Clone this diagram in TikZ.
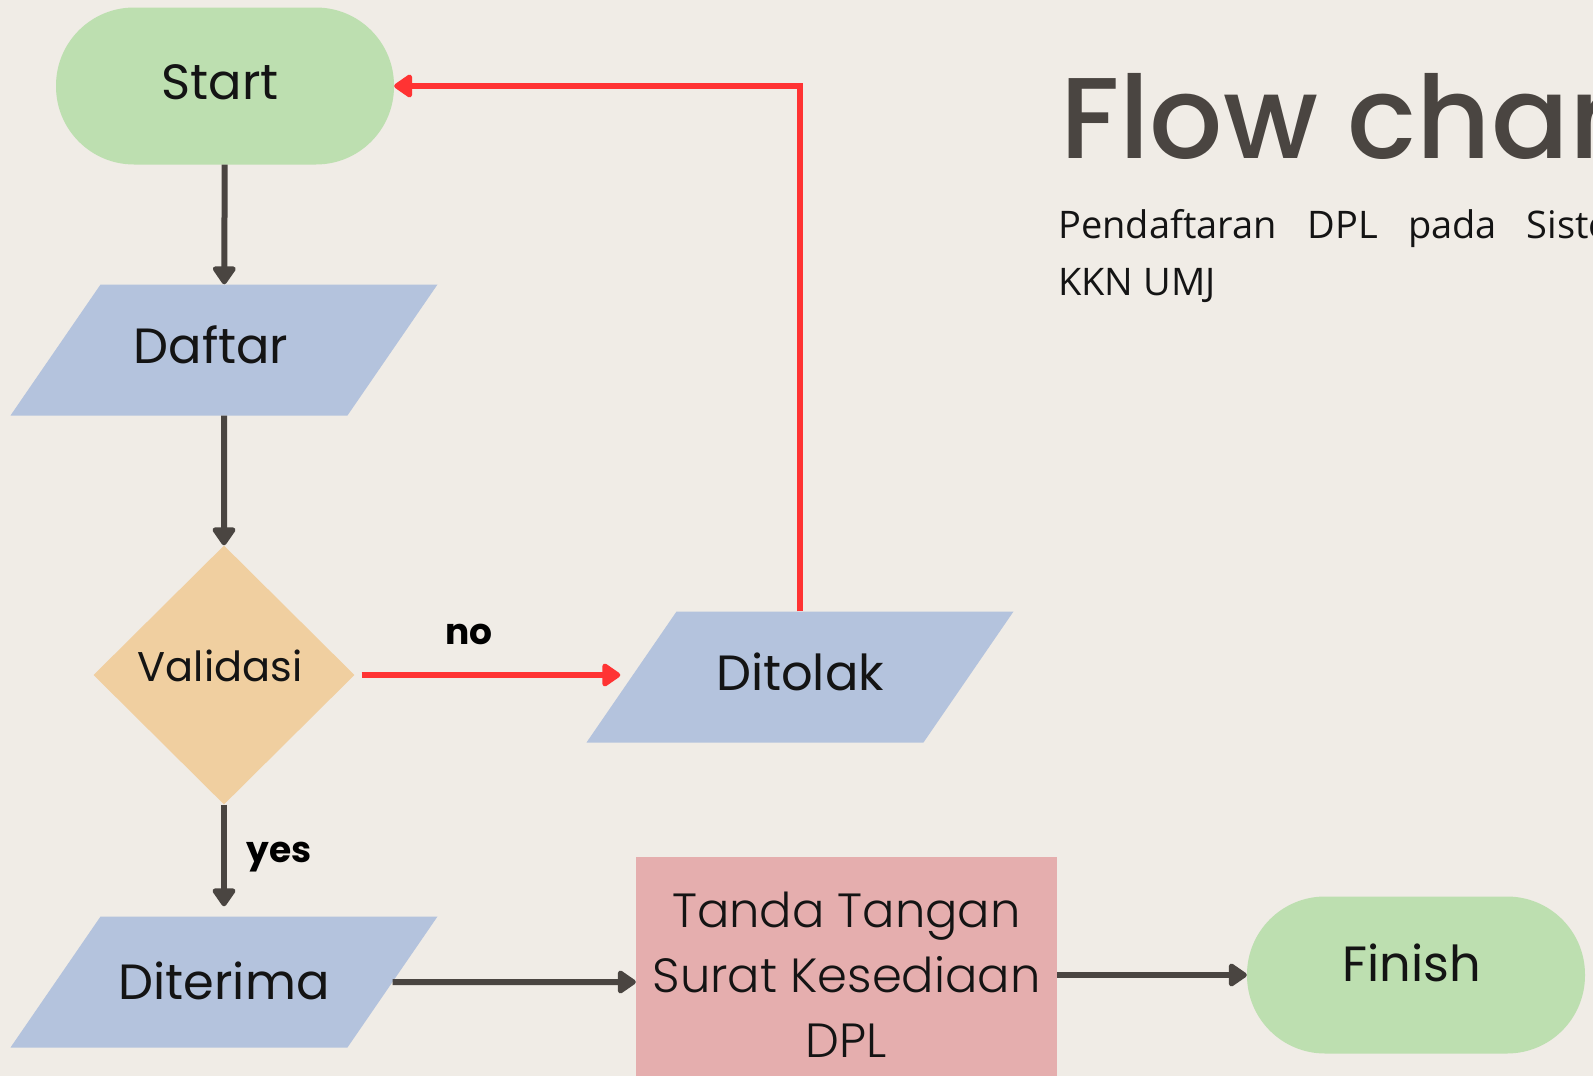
\documentclass[tikz,border=0pt]{standalone}
\usepackage{fontspec}
\setmainfont{Poppins}
\newfontfamily\subfont{Open Sans}
\IfFontExistsTF{Poppins Medium}{\newfontfamily\titlefont{Poppins Medium}}{\newfontfamily\titlefont{Poppins}}
\IfFontExistsTF{Poppins Light}{\newfontfamily\thinfont{Poppins Light}}{\newfontfamily\thinfont{Poppins}}
\usetikzlibrary{arrows.meta, positioning, shapes.geometric}

\definecolor{bgbeige}{HTML}{F0ECE6}
\definecolor{termgreen}{HTML}{BDDFB0}
\definecolor{ioblue}{HTML}{B4C3DD}
\definecolor{decorange}{HTML}{F0CFA0}
\definecolor{procpink}{HTML}{E5AEAE}
\definecolor{rejectred}{HTML}{FF3333}
\definecolor{arrowgrey}{HTML}{4A4541}
\definecolor{inkblack}{HTML}{141414}

\begin{document}
\begin{tikzpicture}[
    x=1pt, y=-1pt,
    every node/.style={text=inkblack},
    terminal/.style={fill=termgreen, rounded corners=78pt, minimum width=338pt, minimum height=157pt, text height=30pt, text depth=3pt, font=\fontsize{49.5}{56}\selectfont},
    io/.style={trapezium, trapezium left angle=55.5, trapezium right angle=124.5, trapezium stretches body, fill=ioblue, minimum width=427pt, text height=30.5pt, text depth=4.5pt, inner xsep=0pt, inner ysep=48pt, font=\fontsize{49.5}{56}\selectfont},
    decision/.style={diamond, fill=decorange, minimum width=261pt, minimum height=259pt, inner sep=0pt, text height=20pt, text depth=7pt, font=\fontsize{41.5}{50}\selectfont},
    process/.style={rectangle, fill=procpink, minimum width=421pt, minimum height=236pt, align=center, font=\thinfont\fontsize{48}{65}\selectfont},
    flow/.style={-{Triangle[length=20pt, width=26pt, round]}, line width=6pt, draw=arrowgrey},
    reject/.style={flow, draw=rejectred},
    branch/.style={font=\bfseries\fontsize{36}{40}\selectfont, text=black},
    >=Latex
]

\useasboundingbox (0,0) rectangle (1593,1076);
\clip (0,0) rectangle (1593,1076);
\fill[bgbeige] (0,0) rectangle (1593,1076);

% Nodes
\node[terminal] (start) at (225, 86) {Start\kern10pt};
\node[io] (daftar) at (224, 350) {Daftar\kern26pt};
\node[decision] (validasi) at (224, 675) {Validasi\kern8pt};
\node[io] (ditolak) at (800, 677) {Ditolak};
\node[io, text height=35pt, text depth=0pt] (diterima) at (224, 982) {Diterima};
\node[process] (tanda) at (846.5, 975) {Tanda Tangan\\Surat Kesediaan\\DPL};
\node[terminal, text height=20pt, text depth=7pt] (finish) at (1416, 975) {Finish\kern8pt};

\node[branch] (no) at (469, 634) {no};
\node[branch, anchor=west] (yes) at (243, 857) {yes};

% Title
\node[anchor=base west, inner sep=0pt, text=arrowgrey, font=\titlefont\fontsize{115}{130}\selectfont] (title) at (1060, 158) {Flow char};
\node[anchor=base west, inner sep=0pt, font=\subfont\fontsize{38}{46}\selectfont] (sub1) at (1058, 238) {Pendaftaran\hspace{31pt}DPL\hspace{30pt}pada\hspace{30pt}Siste};
\node[anchor=base west, inner sep=0pt, font=\subfont\fontsize{38}{46}\selectfont] (sub2) at (1058, 295) {KKN UMJ};

% Arrows
\draw[flow] (start) -- (daftar);
\draw[flow] (daftar) -- (validasi);
\draw[reject, shorten <=7pt, shorten >=11pt] (validasi) -- (validasi -| ditolak.west);
\draw[flow, shorten >=10pt] (validasi) -- (diterima);
\draw[flow] (diterima) -- (diterima -| tanda.west);
\draw[flow] (finish -| tanda.east) -- (finish);
\draw[reject] (ditolak.north) |- (start.east);

\end{tikzpicture}
\end{document}
